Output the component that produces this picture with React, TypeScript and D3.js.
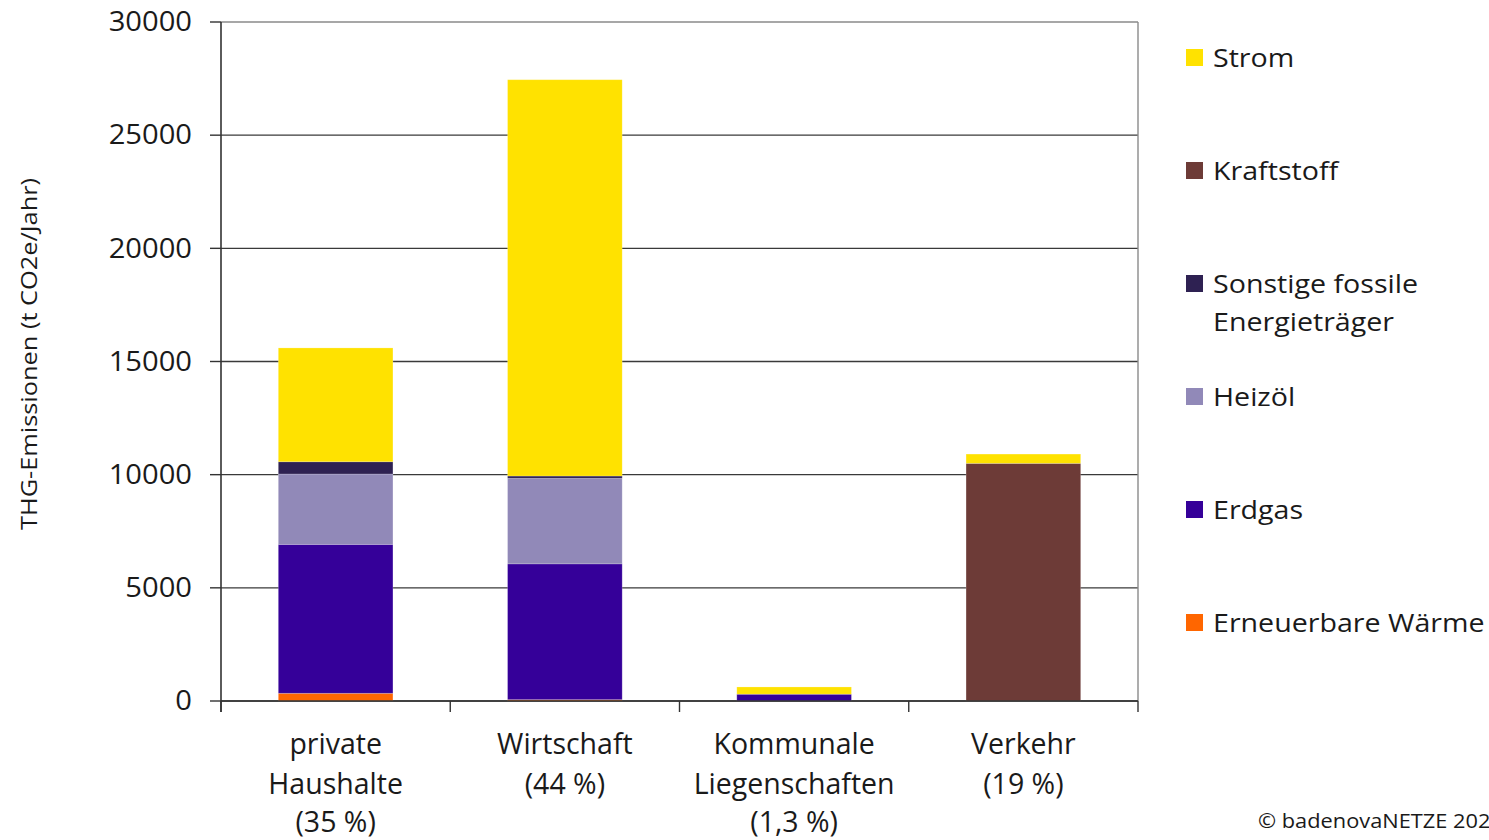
import React from "react";
import * as d3 from "d3";

// Sectors along the x axis (label lines)
const categories = ["private Haushalte", "Wirtschaft", "Kommunale Liegenschaften", "Verkehr"];
const categoryLabels: string[][] = [
  ["private", "Haushalte", "(35 %)"],
  ["Wirtschaft", "(44 %)"],
  ["Kommunale", "Liegenschaften", "(1,3 %)"],
  ["Verkehr", "(19 %)"],
];

// Energy carriers, stacked bottom to top
const seriesNames = [
  "Erneuerbare Wärme",
  "Erdgas",
  "Heizöl",
  "Sonstige fossile Energieträger",
  "Kraftstoff",
  "Strom",
];

// Emissions in t CO2e/Jahr per carrier, one value per sector
const erneuerbareWaerme = [340, 60, 0, 0];
const erdgas = [6580, 6000, 300, 0];
const heizoel = [3110, 3780, 0, 0];
const sonstigeFossile = [540, 100, 0, 0];
const kraftstoff = [0, 0, 0, 10500];
const strom = [5030, 17510, 320, 410];

const yTicks = [0, 5000, 10000, 15000, 20000, 25000, 30000];

const colors: Record<string, string> = {
  "Erneuerbare Wärme": "#FF6600",
  Erdgas: "#350099",
  "Heizöl": "#9189B8",
  "Sonstige fossile Energieträger": "#2E2152",
  Kraftstoff: "#6D3B37",
  Strom: "#FFE200",
};

// Legend order (top to bottom)
const legendOrder = [
  "Strom",
  "Kraftstoff",
  "Sonstige fossile Energieträger",
  "Heizöl",
  "Erdgas",
  "Erneuerbare Wärme",
];
const legendLines: Record<string, string[]> = {
  Strom: ["Strom"],
  Kraftstoff: ["Kraftstoff"],
  "Sonstige fossile Energieträger": ["Sonstige fossile", "Energieträger"],
  "Heizöl": ["Heizöl"],
  Erdgas: ["Erdgas"],
  "Erneuerbare Wärme": ["Erneuerbare Wärme"],
};

const W = 1489;
const H = 840;
const plot = { left: 221, right: 1138, top: 22, bottom: 701 };
const FONT = "'Open Sans', 'Noto Sans', sans-serif";
const WIDE = 1.1; // horizontal stretch of tick, legend and note text
const labelBaselines = [754, 794, 832];

export default function App() {
  const values: Record<string, number[]> = {
    "Erneuerbare Wärme": erneuerbareWaerme,
    Erdgas: erdgas,
    "Heizöl": heizoel,
    "Sonstige fossile Energieträger": sonstigeFossile,
    Kraftstoff: kraftstoff,
    Strom: strom,
  };
  const rows = categories.map((c, i) => {
    const r: Record<string, any> = { category: c };
    seriesNames.forEach((s) => (r[s] = values[s][i]));
    return r;
  });
  const stacked = d3.stack<Record<string, any>>().keys(seriesNames)(rows);

  const x = d3
    .scaleBand<string>()
    .domain(categories)
    .range([plot.left, plot.right])
    .paddingInner(0.5)
    .paddingOuter(0.25);
  const band = d3.scaleBand<string>().domain(categories).range([plot.left, plot.right]);
  const y = d3.scaleLinear().domain([0, 30000]).range([plot.bottom, plot.top]);

  const boundaries = [...categories.map((c) => band(c)!), plot.right];

  return (
    <svg
      width={W}
      height={H}
      style={{ position: "absolute", left: 0, top: 0, background: "#fff" }}
      fontFamily={FONT}
    >
      {/* horizontal gridlines */}
      {yTicks.map((t) => (
        <line
          key={"g" + t}
          x1={plot.left}
          x2={plot.right}
          y1={y(t)}
          y2={y(t)}
          stroke={t === 30000 ? "#8a8a8a" : "#3a3a3a"}
          strokeWidth={1.4}
        />
      ))}
      {/* right frame */}
      <line x1={plot.right} x2={plot.right} y1={plot.top} y2={plot.bottom} stroke="#8a8a8a" strokeWidth={1.4} />

      {/* stacked bars */}
      {stacked.map((layer) => (
        <g key={layer.key} fill={colors[layer.key]}>
          {layer.map((d, i) => {
            const h = y(d[0]) - y(d[1]);
            if (h <= 0) return null;
            return (
              <rect
                key={i}
                x={x(categories[i])}
                width={x.bandwidth()}
                y={y(d[1])}
                height={h}
                stroke="#ffffff"
                strokeOpacity={0.25}
                strokeWidth={0.8}
              />
            );
          })}
        </g>
      ))}

      {/* y axis */}
      <line x1={plot.left} x2={plot.left} y1={plot.top} y2={plot.bottom + 11} stroke="#333" strokeWidth={1.6} />
      {yTicks.map((t) => (
        <g key={"t" + t}>
          <line x1={plot.left - 11} x2={plot.left} y1={y(t)} y2={y(t)} stroke="#333" strokeWidth={1.4} />
          <text
            transform={`translate(192, ${y(t)}) scale(${WIDE}, 1)`}
            dy="0.35em"
            textAnchor="end"
            fontSize={26.5}
            fill="#1a1a1a"
          >
            {t}
          </text>
        </g>
      ))}
      <text
        transform={`translate(37, 354) rotate(-90)`}
        textAnchor="middle"
        fontSize={21}
        fill="#1a1a1a"
        textLength={352}
        lengthAdjust="spacingAndGlyphs"
      >
        THG-Emissionen (t CO2e/Jahr)
      </text>

      {/* x axis */}
      <line x1={plot.left} x2={plot.right} y1={plot.bottom} y2={plot.bottom} stroke="#333" strokeWidth={1.6} />
      {boundaries.map((bx, i) => (
        <line key={"xt" + i} x1={bx} x2={bx} y1={plot.bottom} y2={plot.bottom + 11} stroke="#333" strokeWidth={1.4} />
      ))}
      {categories.map((c, i) => {
        const cx = band(c)! + band.bandwidth() / 2;
        return (
          <g key={"xl" + c} transform={`translate(${cx}, 0)`}>
            {categoryLabels[i].map((line, j) => (
              <text key={j} x={0} y={labelBaselines[j]} textAnchor="middle" fontSize={28.5} fill="#1a1a1a">
                {line}
              </text>
            ))}
          </g>
        );
      })}

      {/* legend */}
      {legendOrder.map((s, i) => {
        const cy = 58 + i * 113;
        return (
          <g key={"lg" + s}>
            <rect x={1186} y={cy - 9} width={17} height={17} fill={colors[s]} />
            {legendLines[s].map((line, j) => (
              <text
                key={j}
                transform={`translate(1213, ${cy + j * 38}) scale(${WIDE}, 1)`}
                dy="0.35em"
                fontSize={26}
                fill="#1a1a1a"
              >
                {line}
              </text>
            ))}
          </g>
        );
      })}

      {/* source note */}
      <text transform={`translate(1258, 828) scale(1.09, 1)`} fontSize={20} fill="#1a1a1a">
        © badenovaNETZE 202
      </text>
    </svg>
  );
}
